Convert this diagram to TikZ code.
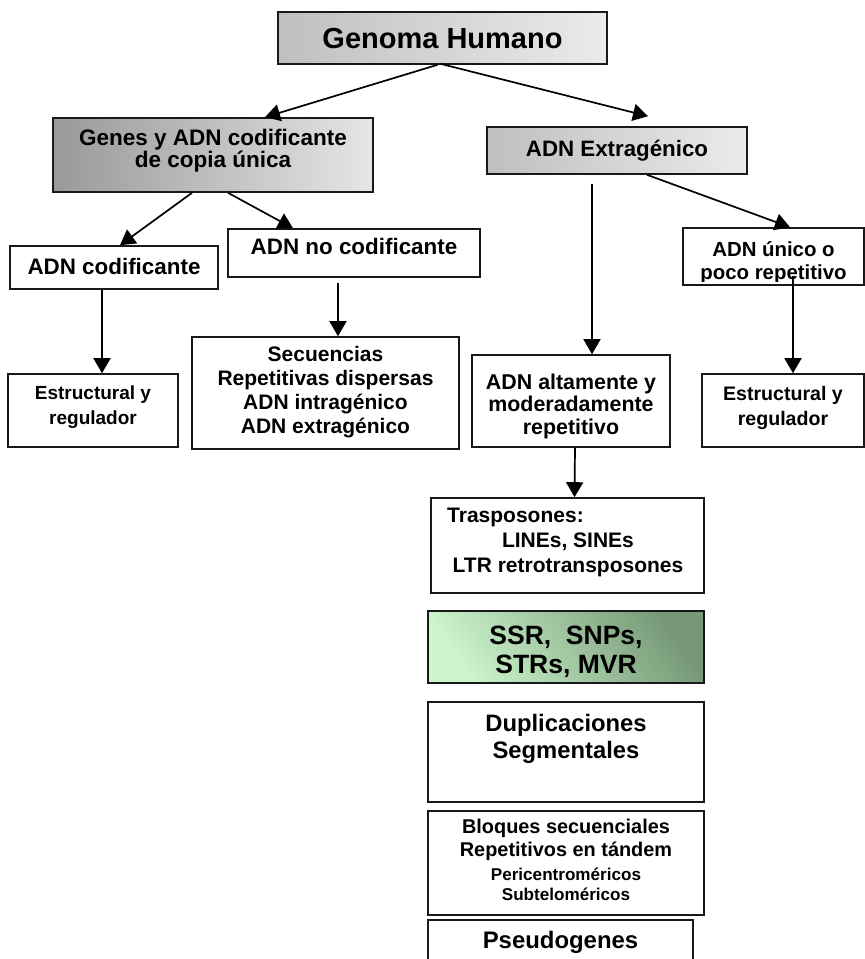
\documentclass[tikz,border=0pt]{standalone}
\usepackage{fontspec}
\setmainfont{Liberation Sans}
\usetikzlibrary{arrows.meta,calc}
\newcommand\bsz[1]{\bfseries\fontsize{#1}{#1}\selectfont}
\tikzset{
  box/.style={draw=black!90, line width=1.6pt, rectangle, inner sep=0pt},
  grayA/.style={left color=black!25, right color=black!8},
  grayB/.style={left color=black!40, right color=black!10},
  greenbox/.style={left color={rgb,255:red,204;green,245;blue,204},
                   right color={rgb,255:red,118;green,152;blue,118}, shading angle=125},
  ln/.style={anchor=base, inner sep=0pt},
  arr/.style={line width=1.7pt, -{Triangle[length=15pt,width=17pt]}},
}
\begin{document}
\begin{tikzpicture}[x=1pt,y=-1pt]
\clip (0,0) rectangle (865,959);
\fill[white] (0,0) rectangle (865,959);

% boxes
\node[box, grayA, minimum width=329pt, minimum height=52pt] (gh) at (442.5,38) {};
\node[box, grayB, minimum width=320pt, minimum height=74pt] (genes) at (213,155) {};
\node[box, grayA, minimum width=260pt, minimum height=47pt] (ext) at (617,150.5) {};
\node[box, minimum width=208pt, minimum height=43pt] (cod) at (114,267.5) {};
\node[box, minimum width=252pt, minimum height=48pt] (nocod) at (354,253) {};
\node[box, minimum width=181pt, minimum height=57pt] (unico) at (773.5,256.5) {};
\node[box, minimum width=170pt, minimum height=73pt] (estL) at (93,410.5) {};
\node[box, minimum width=267pt, minimum height=112pt] (sec) at (325.5,393) {};
\node[box, minimum width=198pt, minimum height=92pt] (alt) at (571,401) {};
\node[box, minimum width=162pt, minimum height=73pt] (estR) at (783,410.5) {};
\node[box, minimum width=273pt, minimum height=95pt] (tras) at (567.5,545.5) {};
\node[box, greenbox, minimum width=276pt, minimum height=72pt] (ssr) at (566,647) {};
\node[box, minimum width=276pt, minimum height=100pt] (dup) at (566,752) {};
\node[box, minimum width=276pt, minimum height=104pt] (bloq) at (566,863) {};
\node[box, minimum width=265pt, minimum height=60pt] (pseudo) at (560.5,950) {};

% texts
\node[ln, font=\bsz{29}] (ghT) at (442.5,48) {Genoma Humano};
\node[ln, font=\bsz{22.5}] (genesT1) at (213,145) {Genes y ADN codificante};
\node[ln, font=\bsz{22.5}] (genesT2) at (213,167.5) {de copia única};
\node[ln, font=\bsz{22.3}] (extT) at (617,156) {ADN Extragénico};
\node[ln, font=\bsz{22.4}] (codT) at (114,274) {ADN codificante};
\node[ln, font=\bsz{22.4}] (nocodT) at (354,254.5) {ADN no codificante};
\begin{scope}
  \clip ($(unico.north west)+(1,1)$) rectangle ($(unico.east)+(-1,24.5)$);
  \node[ln, font=\bsz{20.4}] (unicoT1) at (773.5,256.5) {ADN único o};
  \node[ln, font=\bsz{20.4}] (unicoT2) at (773.5,279) {poco repetitivo};
\end{scope}
\node[ln, font=\bsz{19}] (estLT1) at (93,399) {Estructural y};
\node[ln, font=\bsz{19}] (estLT2) at (93,424) {regulador};
\node[ln, font=\bsz{21}] (secT1) at (325.5,361) {Secuencias};
\node[ln, font=\bsz{21}] (secT2) at (325.5,385) {Repetitivas dispersas};
\node[ln, font=\bsz{21}] (secT3) at (325.5,409) {ADN intragénico};
\node[ln, font=\bsz{21}] (secT4) at (325.5,433) {ADN extragénico};
\node[ln, font=\bsz{21.4}] (altT1) at (571,389) {ADN altamente y};
\node[ln, font=\bsz{21.4}] (altT2) at (571,411.5) {moderadamente};
\node[ln, font=\bsz{21.4}] (altT3) at (571,434) {repetitivo};
\node[ln, font=\bsz{19.6}] (estRT1) at (783,400) {Estructural y};
\node[ln, font=\bsz{19.6}] (estRT2) at (783,425) {regulador};
\node[ln, anchor=base west, font=\bsz{21}] (trasT1) at (447,522) {Trasposones:};
\node[ln, font=\bsz{21}] (trasT2) at (568,547) {LINEs, SINEs};
\node[ln, font=\bsz{21}] (trasT3) at (568,572) {LTR retrotransposones};
\node[ln, font=\bsz{26.5}] (ssrT1) at (566,644) {SSR,\ \ SNPs,};
\node[ln, font=\bsz{26.5}] (ssrT2) at (566,673) {STRs, MVR};
\node[ln, font=\bsz{23.8}] (dupT1) at (566,731) {Duplicaciones};
\node[ln, font=\bsz{23.8}] (dupT2) at (566,758) {Segmentales};
\node[ln, font=\bsz{19.9}] (bloqT1) at (566,833) {Bloques secuenciales};
\node[ln, font=\bsz{19.9}] (bloqT2) at (566,856) {Repetitivos en tándem};
\node[ln, font=\bsz{17.1}] (bloqT3) at (566,880) {Pericentroméricos};
\node[ln, font=\bsz{17.1}] (bloqT4) at (566,900) {Subteloméricos};
\node[ln, font=\bsz{23.9}] (pseudoT) at (560.5,948) {Pseudogenes};

% connector ends that stop short of a box
\coordinate (extin) at ($(ext.north)+(31,-10)$);

% connectors
\draw[arr] ($(gh.south)+(-5,0)$) -- ($(genes.north)+(52,0)$);
\draw[arr] ($(gh.south)+(-2,-1)$) -- (extin);
\draw[arr] ($(genes.south)+(-21,0)$) -- ($(cod.north)+(6,0)$);
\draw[arr] ($(genes.south)+(15,0)$) -- ($(nocod.north)+(-61,0)$);
\draw[arr] ($(cod.south)+(-12,0)$) -- ($(estL.north)+(9,0)$);
\draw[arr] ($(nocod.south)+(-16,5)$) -- ($(sec.north)+(12.5,0)$);
\draw[arr] ($(ext.south)+(-25,9)$) -- ($(alt.north)+(21,0)$);
\draw[arr] ($(ext.south)+(30,0)$) -- ($(unico.north)+(16.5,0)$);
\draw[arr] ($(unico.south)+(19.5,-10)$) -- ($(estR.north)+(10,0)$);
\draw[arr] ($(alt.south)+(4,0)$) -- ($(tras.north)+(7,0)$);
\end{tikzpicture}
\end{document}
